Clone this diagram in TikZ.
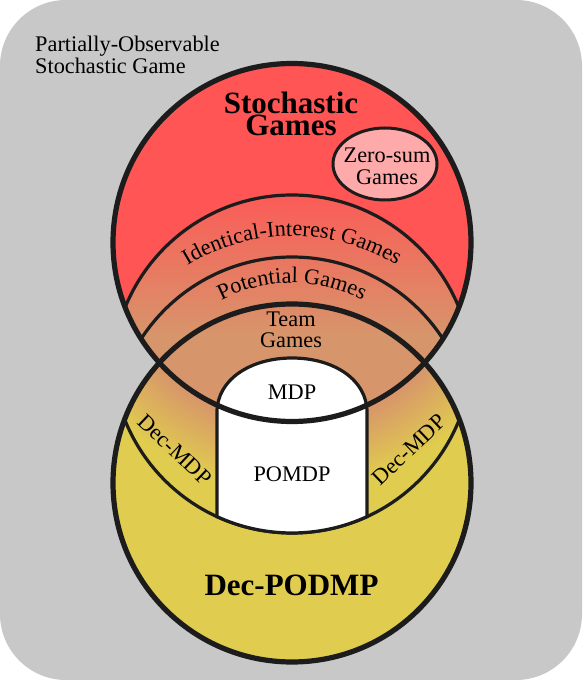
\documentclass[tikz,border=0pt]{standalone}
\usepackage{fontspec}
\setmainfont{Liberation Serif}
\usetikzlibrary{decorations.text,calc}
\definecolor{bggray}{HTML}{C8C8C8}
\definecolor{sgred}{HTML}{FF5555}
\definecolor{zspink}{HTML}{FFAAAA}
\definecolor{mytan}{HTML}{D7956B}
\definecolor{decyel}{HTML}{E0CC4E}
\definecolor{ink}{HTML}{1C1C1C}
\pgfdeclareradialshading{decmdpshade}{\pgfpoint{0bp}{0bp}}{color(0bp)=(mytan); color(15.0bp)=(mytan); color(20.6bp)=(decyel); color(50bp)=(decyel)}
\begin{document}
\begin{tikzpicture}[x=1pt,y=1pt,
  outerline/.style={draw=ink, line width=5.2pt},
  innerline/.style={draw=ink, line width=3.2pt},
  lbl/.style={font=\fontsize{22.3}{22.3}\selectfont, inner sep=0pt, anchor=base, text=black},
  titletext/.style={font=\fontsize{31}{31}\selectfont\bfseries, inner sep=0pt, anchor=base, text=black}]
\coordinate (TC) at (292,437.5);
\coordinate (BC) at (292,197);
\coordinate (IC) at (292,305);
\coordinate (PC) at (292,243);
\coordinate (DC) at (292,327);
\useasboundingbox (0,0) rectangle (582,680);
\fill[white] (0,0) rectangle (582,680);
\fill[bggray, rounded corners=66pt] (0,0) rectangle (582,680);
% base fills
\fill[decyel] (BC) circle[radius=179];
\fill[sgred] (TC) circle[radius=179];
% Dec-MDP gradient
\begin{scope}
  \clip (BC) circle[radius=179];
  \clip (DC) circle[radius=180];
  \shade[shading=decmdpshade] (TC) circle[radius=300];
\end{scope}
% identical-interest gradient
\begin{scope}
  \clip (TC) circle[radius=179];
  \clip (IC) circle[radius=180];
  \fill[mytan] (100,0) rectangle (500,345);
  \shade[top color=sgred, bottom color=mytan] (100,345) rectangle (500,500);
\end{scope}
% inner arcs
\begin{scope}
  \clip (TC) circle[radius=179];
  \draw[innerline] (IC) circle[radius=180];
  \draw[innerline] (PC) circle[radius=180];
\end{scope}
\begin{scope}
  \clip (BC) circle[radius=179];
  \draw[innerline] (DC) circle[radius=180];
\end{scope}
% MDP / POMDP white region
\draw[innerline, fill=white] (217,268) -- ($(DC)+(245.4:180)$) arc[start angle=245.4, end angle=294.6, radius=180] -- (367,268) .. controls (367,300) and (334,322) .. (292,322) .. controls (250,322) and (217,300) .. cycle;
% zero-sum ellipse
\draw[draw=ink, line width=3pt, fill=zspink] (385,516) ellipse[x radius=52, y radius=36];
% outer circles
\draw[outerline] (BC) circle[radius=179];
\draw[outerline] (TC) circle[radius=179];
% texts
\node[lbl, anchor=base west] (pos1) at (35,628) {Partially-Observable};
\node[lbl, anchor=base west] (pos2) at (35,606.5) {Stochastic Game};
\node[titletext] (sg1) at (291,566.5) {Stochastic};
\node[titletext] (sg2) at (291,544.5) {Games};
\node[lbl] (zs1) at (387,517) {Zero-sum};
\node[lbl] (zs2) at (387,495) {Games};
\node[lbl] (tg1) at (291,353) {Team};
\node[lbl] (tg2) at (291,332) {Games};
\node[lbl] (mdp) at (292,280) {MDP};
\node[lbl] (pomdp) at (292,198) {POMDP};
\node[titletext] (dp) at (291.5,84) {Dec-PODMP};
\node[lbl, rotate=-43.6] (dml) at (170,225) {Dec-MDP};
\node[lbl, rotate=43.6] (dmr) at (414,225) {Dec-MDP};
\path[decorate, decoration={text along path, text={|\fontsize{22.3}{22.3}\selectfont|Identical-Interest Games}, text align=center}] ($(PC)+(145:201)$) arc[start angle=145, end angle=35, radius=201];
\path[decorate, decoration={text along path, text={|\fontsize{22.3}{22.3}\selectfont|Potential Games}, text align=center}] ($(PC)+(145:154)$) arc[start angle=145, end angle=35, radius=154];
\end{tikzpicture}
\end{document}
